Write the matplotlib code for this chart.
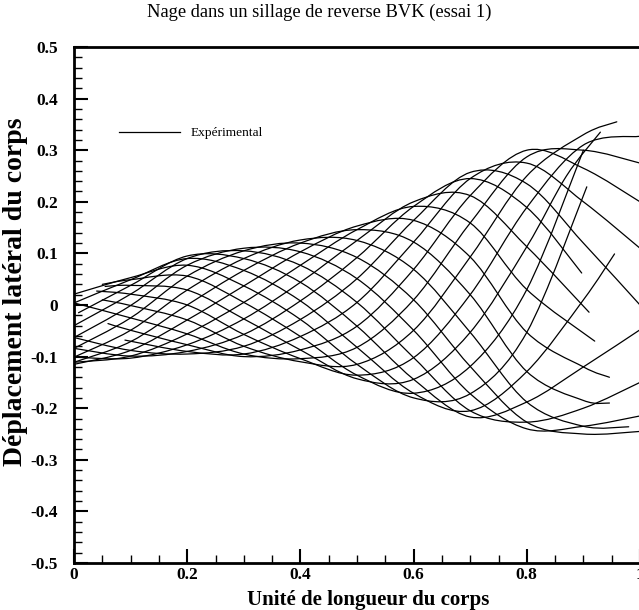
import matplotlib
matplotlib.use("Agg")
import matplotlib.pyplot as plt
from matplotlib.path import Path
from matplotlib.patches import PathPatch
from matplotlib.lines import Line2D
from matplotlib.ticker import MultipleLocator

# ---- data: body midline snapshots (x = body length unit, y = lateral displacement)
s00_x = [0.0, 0.1, 0.2, 0.3, 0.4, 0.5, 0.6, 0.7, 0.8, 0.9, 1.0]
s00_y = [-.040, .021, .090, .105, .077, .005, -.102, -.205, -.227, -.200, -.150]
s01_x = [0.0, 0.1, 0.2, 0.3, 0.4, 0.5, 0.6, 0.7, 0.8, 0.9, 1.0]
s01_y = [-.063, -.001, .077, .110, .103, .051, -.049, -.172, -.240, -.235, -.215]
s02_x = [0.0, 0.1, 0.2, 0.3, 0.4, 0.5, 0.6, 0.7, 0.8, 0.9, 1.0]
s02_y = [-.084, -.025, .056, .105, .120, .092, .010, -.119, -.227, -.250, -.245]
s03_x = [0.0, 0.1, 0.2, 0.3, 0.4, 0.5, 0.6, 0.7, 0.8, 0.9, 0.98]
s03_y = [-.101, -.049, .029, .090, .126, .125, .069, -.053, -.188, -.235, -.236]
s04_x = [0.0, 0.1, 0.2, 0.3, 0.4, 0.5, 0.6, 0.7, 0.8, 0.9, 0.946]
s04_y = [-.111, -.071, .000, .067, .120, .146, .122, .020, -.129, -.185, -.190]
s05_x = [0.0, 0.1, 0.2, 0.3, 0.4, 0.5, 0.6, 0.7, 0.8, 0.9, 0.946]
s05_y = [-.115, -.088, -.029, .037, .103, .153, .164, .093, -.053, -.120, -.140]
s06_x = [0.0, 0.1, 0.2, 0.3, 0.4, 0.5, 0.6, 0.7, 0.8, 0.92]
s06_y = [-.111, -.099, -.056, .005, .077, .146, .191, .159, .030, -.070]
s07_x = [0.0, 0.1, 0.2, 0.3, 0.4, 0.5, 0.6, 0.7, 0.8, 0.91]
s07_y = [-.101, -.103, -.077, -.027, .044, .125, .200, .212, .113, -.014]
s08_x = [0.0, 0.1, 0.2, 0.3, 0.4, 0.5, 0.6, 0.7, 0.8, 0.897]
s08_y = [-.084, -.099, -.090, -.057, .008, .092, .191, .245, .189, .062]
s09_x = [0.0, 0.1, 0.2, 0.3, 0.4, 0.5, 0.6, 0.7, 0.8, 0.9, 1.0]
s09_y = [-.063, -.088, -.095, -.080, -.028, .051, .164, .257, .235, .120, .000]
s10_x = [0.09, 0.2, 0.3, 0.4, 0.5, 0.6, 0.7, 0.8, 0.9, 1.0]
s10_y = [-.068, -.090, -.095, -.061, .005, .122, .245, .275, .200, .110]
s11_x = [0.06, 0.1, 0.2, 0.3, 0.4, 0.5, 0.6, 0.7, 0.8, 0.9, 1.0]
s11_y = [-.036, -.049, -.077, -.100, -.087, -.041, .069, .212, .300, .265, .200]
s12_x = [0.0, 0.1, 0.2, 0.3, 0.4, 0.5, 0.6, 0.7, 0.8, 0.9, 1.0]
s12_y = [.004, -.025, -.056, -.095, -.104, -.082, .010, .159, .287, .300, .275]
s13_x = [0.05, 0.1, 0.2, 0.3, 0.4, 0.5, 0.6, 0.7, 0.8, 0.9, 0.959]
s13_y = [.010, -.001, -.029, -.080, -.110, -.115, -.049, .093, .250, .330, .355]
s14_x = [0.04, 0.1, 0.2, 0.3, 0.4, 0.5, 0.6, 0.7, 0.8, 0.9, 1.0]
s14_y = [.027, .021, .000, -.057, -.104, -.136, -.102, .020, .189, .310, .327]
s15_x = [0.055, 0.1, 0.2, 0.3, 0.4, 0.5, 0.6, 0.7, 0.8, 0.87, 0.93]
s15_y = [.036, .038, .029, -.027, -.087, -.143, -.144, -.053, .113, .250, .335]
s16_x = [0.05, 0.1, 0.2, 0.3, 0.4, 0.5, 0.6, 0.7, 0.8, 0.9]
s16_y = [.040, .049, .056, .005, -.061, -.136, -.171, -.119, .030, .300]
s17_x = [0.0, 0.1, 0.2, 0.3, 0.4, 0.5, 0.6, 0.7, 0.8, 0.906]
s17_y = [.021, .053, .077, .037, -.028, -.115, -.180, -.172, -.053, .229]
s18_x = [0.0, 0.1, 0.2, 0.3, 0.4, 0.5, 0.6, 0.7, 0.8, 0.9, 0.955]
s18_y = [.004, .049, .090, .067, .008, -.082, -.171, -.205, -.129, .010, .099]
s19_x = [0.008, 0.1, 0.2, 0.3, 0.4, 0.5, 0.6, 0.7, 0.8, 0.9, 1.0]
s19_y = [-.015, .038, .095, .090, .044, -.041, -.144, -.217, -.188, -.120, -.048]

snapshots = [
    (s00_x, s00_y), (s01_x, s01_y), (s02_x, s02_y), (s03_x, s03_y),
    (s04_x, s04_y), (s05_x, s05_y), (s06_x, s06_y), (s07_x, s07_y),
    (s08_x, s08_y), (s09_x, s09_y), (s10_x, s10_y), (s11_x, s11_y),
    (s12_x, s12_y), (s13_x, s13_y), (s14_x, s14_y), (s15_x, s15_y),
    (s16_x, s16_y), (s17_x, s17_y), (s18_x, s18_y), (s19_x, s19_y),
]

xtick_vals = [0, 0.2, 0.4, 0.6, 0.8, 1.0]
xtick_labels = ["0", "0.2", "0.4", "0.6", "0.8", "1"]
ytick_vals = [-0.5, -0.4, -0.3, -0.2, -0.1, 0, 0.1, 0.2, 0.3, 0.4, 0.5]
ytick_labels = ["-0.5", "-0.4", "-0.3", "-0.2", "-0.1", "0",
                "0.1", "0.2", "0.3", "0.4", "0.5"]

title_text = "Nage dans un sillage de reverse BVK (essai 1)"
xlabel_text = "Unité de longueur du corps"
ylabel_text = "Déplacement latéral du corps"
legend_text = "Expérimental"

serif = ["Liberation Serif", "DejaVu Serif"]


def smooth_path(xs, ys):
    """Catmull-Rom rendering of the measured points as cubic Bezier segments."""
    pts = list(zip(xs, ys))
    n = len(pts)
    verts = [pts[0]]
    codes = [Path.MOVETO]
    for i in range(n - 1):
        p0 = pts[i - 1] if i > 0 else pts[i]
        p1 = pts[i]
        p2 = pts[i + 1]
        p3 = pts[i + 2] if i + 2 < n else pts[i + 1]
        c1 = (p1[0] + (p2[0] - p0[0]) / 6.0, p1[1] + (p2[1] - p0[1]) / 6.0)
        c2 = (p2[0] - (p3[0] - p1[0]) / 6.0, p2[1] - (p3[1] - p1[1]) / 6.0)
        verts += [c1, c2, p2]
        codes += [Path.CURVE4] * 3
    return Path(verts, codes)


fig = plt.figure(figsize=(6.39, 6.10), dpi=100)
ax = fig.add_axes([74 / 639, 47 / 610, 566 / 639, 516 / 610])

for xs, ys in snapshots:
    ax.add_patch(PathPatch(smooth_path(xs, ys), fill=False, edgecolor="black",
                           linewidth=0.9, capstyle="round", joinstyle="round"))

ax.set_xlim(0, 1)
ax.set_ylim(-0.5, 0.5)

for side in ("left", "bottom", "top"):
    ax.spines[side].set_linewidth(2.0)
ax.spines["right"].set_visible(False)

ax.set_xticks(xtick_vals)
ax.set_xticklabels(xtick_labels)
ax.set_yticks(ytick_vals)
ax.set_yticklabels(ytick_labels)
ax.xaxis.set_minor_locator(MultipleLocator(0.05))
ax.yaxis.set_minor_locator(MultipleLocator(0.02))
ax.tick_params(which="both", direction="in", top=False, right=False)
ax.tick_params(which="major", length=10, width=1.5)
ax.tick_params(which="minor", length=6, width=1.0)
ax.tick_params(axis="y", which="major", pad=11.5)
ax.tick_params(axis="x", which="major", pad=3)
for lab in ax.get_xticklabels() + ax.get_yticklabels():
    lab.set_fontfamily(serif)
    lab.set_fontweight("bold")
    lab.set_fontsize(12.5)

ax.set_xlabel(xlabel_text, fontfamily=serif, fontweight="bold", fontsize=15, labelpad=5)
ax.xaxis.label.set_x(0.52)
ax.set_ylabel(ylabel_text, fontfamily=serif, fontweight="bold", fontsize=20, labelpad=2)
ax.yaxis.label.set_y(0.525)
fig.text(0.5, 0.994, title_text, ha="center", va="top", fontfamily=serif, fontsize=13.3)

handle = Line2D([], [], color="black", linewidth=0.9)
leg = ax.legend([handle], [legend_text], loc="center left",
                bbox_to_anchor=(0.07, 0.833), frameon=False,
                handlelength=4.6, handletextpad=0.75, borderaxespad=0,
                prop={"family": serif, "size": 9.6})

fig.savefig("out.png", dpi=100)
